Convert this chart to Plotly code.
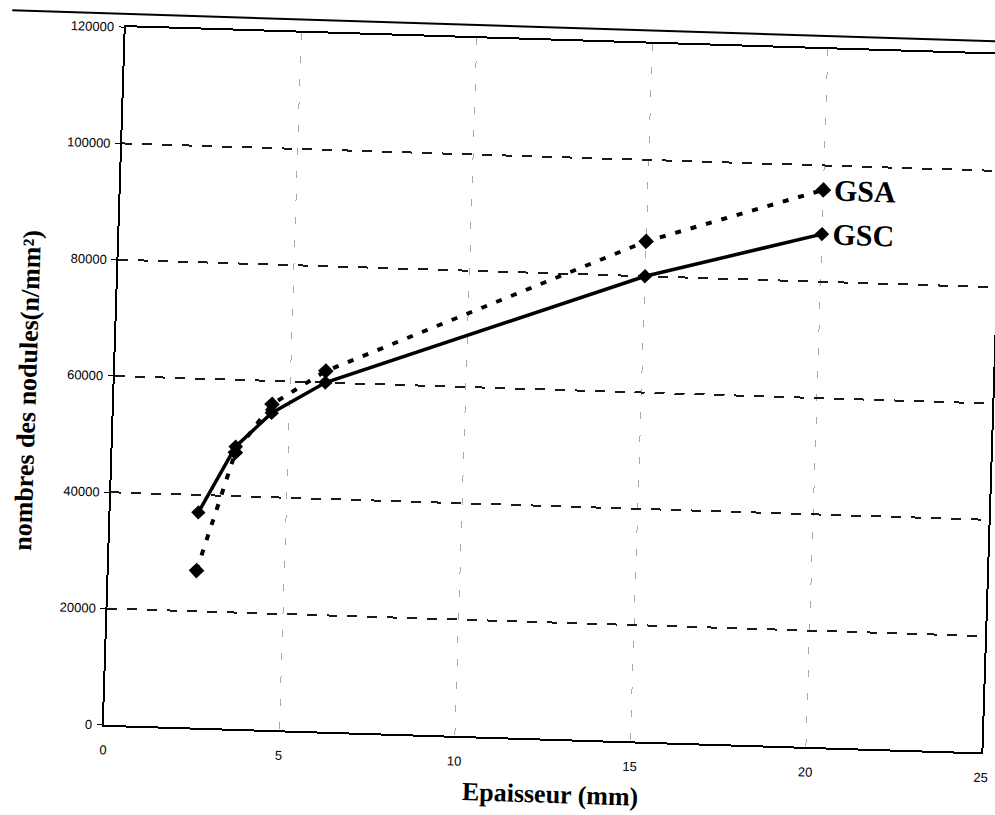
import plotly.graph_objects as go

# Nodule count versus section thickness for the two cast irons
epaisseur = [2.5, 3.5, 4.5, 6, 15, 20]
gsa = [27000, 47500, 56000, 62000, 86000, 95800]
gsc = [37000, 48500, 54500, 60000, 80000, 88200]

x_ticks = [0, 5, 10, 15, 20, 25]
y_ticks = [0, 20000, 40000, 60000, 80000, 100000, 120000]
y_tick_text = ["0", "20000", "40000", "60000", "80000", "100000", "120000"]

serif_bold = "Liberation Serif"
tick_font = dict(family="Liberation Sans Narrow, Liberation Sans, Arial", size=13, color="black")

fig = go.Figure()

fig.add_trace(go.Scatter(
    x=epaisseur, y=gsc, mode="lines+markers", name="GSC",
    line=dict(color="black", width=3.5),
    marker=dict(symbol="diamond", size=11, color="black"),
))
fig.add_trace(go.Scatter(
    x=epaisseur, y=gsa, mode="lines+markers", name="GSA",
    line=dict(color="black", width=4, dash="6px,10px"),
    marker=dict(symbol="diamond", size=12, color="black"),
))

# series names written at the end of each curve
for name, values in (("GSA", gsa), ("GSC", gsc)):
    fig.add_annotation(
        x=epaisseur[-1], y=values[-1], text=f"<b>{name}</b>",
        xanchor="left", yanchor="middle", xshift=9, showarrow=False,
        font=dict(family=serif_bold, size=30, color="black"),
    )

fig.add_annotation(
    xref="paper", yref="paper", x=-0.099, y=0.475,
    text="<b>nombres des nodules(n/mm²)</b>", textangle=-90,
    showarrow=False, xanchor="center", yanchor="middle",
    font=dict(family=serif_bold, size=26, color="black"),
)
fig.add_annotation(
    xref="paper", yref="paper", x=0.51, y=-0.08,
    text="<b>Epaisseur (mm)</b>", showarrow=False,
    xanchor="center", yanchor="middle",
    font=dict(family=serif_bold, size=26, color="black"),
)

# frame line running above the plot area
fig.add_shape(
    type="line", xref="paper", yref="paper",
    x0=-0.2, x1=1.1, y0=1.019, y1=1.019,
    line=dict(color="black", width=2),
)

fig.update_xaxes(
    range=[0, 25], tickvals=x_ticks, ticks="", ticklabelstandoff=12,
    tickfont=tick_font, showline=True, linecolor="black", linewidth=2, mirror=True,
    showgrid=True, gridcolor="#a8a8a8", gridwidth=1, griddash="7px,16px",
    zeroline=False,
)
fig.update_yaxes(
    range=[0, 120000], tickvals=y_ticks, ticktext=y_tick_text,
    ticks="outside", ticklen=5, tickcolor="black", ticklabelstandoff=2,
    tickfont=tick_font, showline=True, linecolor="black", linewidth=2, mirror=True,
    showgrid=True, gridcolor="#1a1a1a", gridwidth=1.6, griddash="10px,10px",
    zeroline=False,
)

fig.update_layout(
    width=1010, height=815,
    margin=dict(l=114, r=11, t=39, b=78),
    paper_bgcolor="white", plot_bgcolor="white",
    showlegend=False,
)

# the printed page sits slightly askew
post = """
document.body.style.margin = '0';
document.documentElement.style.overflow = 'hidden';
document.body.style.overflow = 'hidden';
var gd = document.getElementById('{plot_id}');
gd.style.transformOrigin = '497px 407px';
gd.style.transform = 'rotate(1.8deg)';
"""

fig.write_html("out.html", post_script=post)
